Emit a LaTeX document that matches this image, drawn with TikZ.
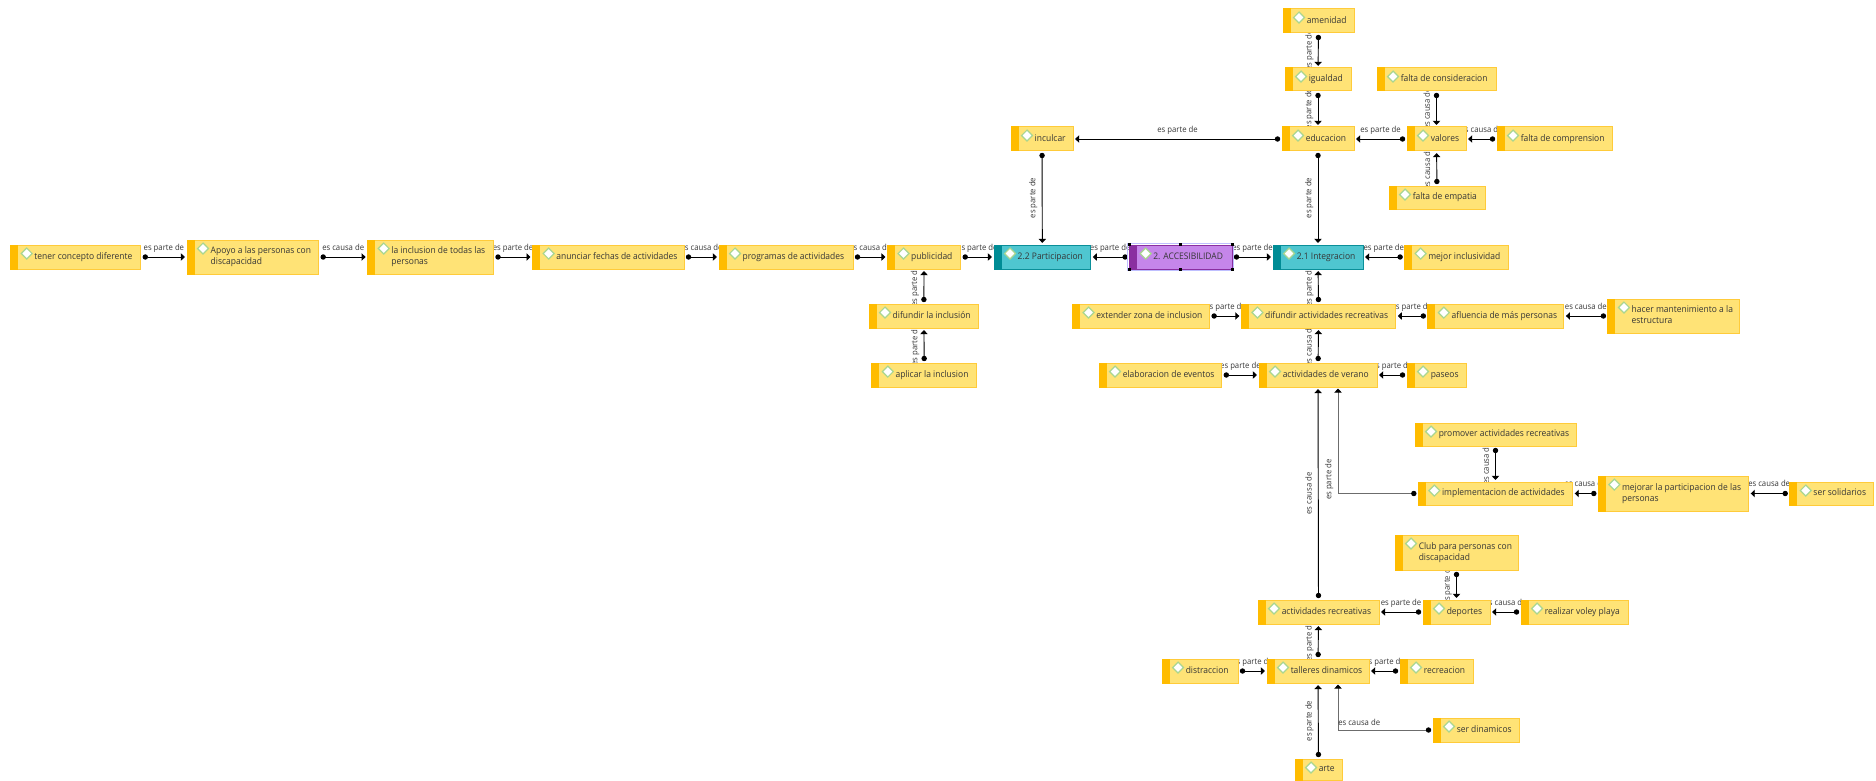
\documentclass[tikz,border=0pt]{standalone}
\usepackage{fontspec}
\setmainfont[FakeStretch=0.935]{Open Sans}
\usetikzlibrary{arrows.meta,calc}
\pgfdeclarelayer{background}
\pgfsetlayers{background,main}
\definecolor{yelfill}{HTML}{FFE376}
\definecolor{yelline}{HTML}{FFCB3A}
\definecolor{yelbar}{HTML}{FFBC00}
\definecolor{tealfill}{HTML}{4FC6D0}
\definecolor{tealline}{HTML}{0A8F99}
\definecolor{tealbar}{HTML}{008C95}
\definecolor{purpfill}{HTML}{C586EA}
\definecolor{purpline}{HTML}{8A2FA0}
\definecolor{purpbar}{HTML}{8A2FA0}
\definecolor{txtcol}{HTML}{363636}
\definecolor{diaml}{HTML}{A9D690}
\newcounter{lblc}
\tikzset{
  yel/.style={fill=yelfill,draw=yelline},
  tealb/.style={fill=tealfill,draw=tealline},
  purp/.style={fill=purpfill,draw=purpline},
  boxbase/.style={rectangle,inner sep=0pt,line width=0.75pt,text=txtcol,font=\fontsize{6.8}{8.3}\selectfont},
  link/.style={line width=0.7pt,black,{Circle[length=4pt,width=4pt,color=black]}-{Triangle[length=3pt,width=5.5pt,color=black]},shorten <=1pt,shorten >=1.2pt},
  lbl/.style={inner xsep=0pt,inner ysep=3.3pt,text height=5pt,text depth=1.4pt,text=txtcol,font=\fontsize{6.2}{7}\selectfont,anchor=south},
  handle/.style={fill=black},
}
% \bx{style}{barcolour}{name}{x1}{y1}{x2}{y2}{text}
\newcommand{\bx}[8]{%
  \pgfmathsetmacro\cxx{(#4+#6)/2}%
  \pgfmathsetmacro\cyy{(#5+#7)/2}%
  \pgfmathsetmacro\bww{(#6-#4)*0.75}%
  \pgfmathsetmacro\bhh{(#7-#5)*0.75}%
  \node[boxbase,#1,minimum width=\bww pt,minimum height=\bhh pt] (#3) at (\cxx,\cyy)
    {\raisebox{2.2pt}{\makebox[\bww pt][l]{\hspace*{17.8pt}\begin{tabular}{@{}l@{}}#8\end{tabular}}}};
  \fill[#2] (#3.north west) rectangle ([xshift=6pt]#3.south west);
  \filldraw[fill=white,draw=diaml,line width=0.9pt]
    ([xshift=8.3pt,yshift=-6.8pt]#3.north west) -- ++(4.1pt,4.1pt) -- ++(4.1pt,-4.1pt) -- ++(-4.1pt,-4.1pt) -- cycle;
}
\newcommand{\ch}[3]{%
  \stepcounter{lblc}%
  \begin{pgfonlayer}{background}
  \draw[link] (#1) -- (#2) node[lbl,midway] (lb\thelblc) {#3};
  \end{pgfonlayer}}
\newcommand{\cv}[3]{%
  \stepcounter{lblc}%
  \begin{pgfonlayer}{background}
  \draw[link] (#1) -- (#2) node[lbl,midway,rotate=90] (lb\thelblc) {#3};
  \end{pgfonlayer}}
\begin{document}
\begin{tikzpicture}[x=0.75pt,y=-0.75pt]
\useasboundingbox (0,0) rectangle (1876,781);
% row
\bx{yel}{yelbar}{tener}{10.7}{245}{140.8}{269}{tener concepto diferente}
\bx{yel}{yelbar}{apoyo}{187}{240}{318.7}{274}{Apoyo a las personas con\\discapacidad}
\bx{yel}{yelbar}{inclu}{367.7}{240}{493.5}{274}{la inclusion de todas las\\personas}
\bx{yel}{yelbar}{anun}{532.6}{245}{684}{269}{anunciar fechas de actividades}
\bx{yel}{yelbar}{prog}{719}{245}{853}{269}{programas de actividades}
\bx{yel}{yelbar}{publi}{887.5}{245}{960.7}{269}{publicidad}
\bx{tealb}{tealbar}{parti}{994}{245}{1090.7}{269}{2.2 Participacion}
\bx{purp}{purpbar}{acces}{1129.6}{245}{1232}{269}{2. ACCESIBILIDAD}
\bx{tealb}{tealbar}{integ}{1273}{245}{1363}{269}{2.1 Integracion}
\bx{yel}{yelbar}{mejor}{1404.6}{245}{1508}{269}{mejor inclusividad}
% selection handles
\draw[color=blue!25,line width=0.6pt] ([shift={(-1pt,1pt)}]acces.north west) rectangle ([shift={(1pt,-1pt)}]acces.south east);
\foreach \a in {north west,north,north east,south west,south,south east}{
  \fill[handle] ([shift={(-1.1pt,-1.1pt)}]acces.\a) rectangle ([shift={(1.1pt,1.1pt)}]acces.\a);
}
% below row
\bx{yel}{yelbar}{difla}{869}{304}{978.6}{328}{difundir la inclusión}
\bx{yel}{yelbar}{aplic}{871.8}{363}{976.8}{387}{aplicar la inclusion}
\bx{yel}{yelbar}{exten}{1072.5}{304}{1209.6}{328}{extender zona de inclusion}
\bx{yel}{yelbar}{difac}{1241.4}{304}{1395.7}{328}{difundir actividades recreativas}
\bx{yel}{yelbar}{afluen}{1427.8}{304}{1563.8}{328}{afluencia de más personas}
\bx{yel}{yelbar}{hacer}{1607.9}{299}{1739}{333}{hacer mantenimiento a la\\estructura}
\bx{yel}{yelbar}{elabo}{1099}{363}{1221.8}{387}{elaboracion de eventos}
\bx{yel}{yelbar}{veran}{1259}{363}{1377}{387}{actividades de verano}
\bx{yel}{yelbar}{paseo}{1407}{363}{1466.4}{387}{paseos}
\bx{yel}{yelbar}{promo}{1415}{423}{1576}{446}{promover actividades recreativas}
\bx{yel}{yelbar}{imple}{1418.3}{482}{1572.6}{505}{implementacion de actividades}
\bx{yel}{yelbar}{mejpa}{1598.3}{476}{1748.6}{511}{mejorar la participacion de las\\personas}
\bx{yel}{yelbar}{solid}{1789.7}{482}{1873.5}{505}{ser solidarios}
% top
\bx{yel}{yelbar}{ameni}{1283}{9}{1354}{33}{amenidad}
\bx{yel}{yelbar}{igual}{1285}{68}{1351}{91}{igualdad}
\bx{yel}{yelbar}{fcons}{1377}{68}{1496}{91}{falta de consideracion}
\bx{yel}{yelbar}{educa}{1282}{127}{1354}{151}{educacion}
\bx{yel}{yelbar}{valor}{1407}{127}{1466}{151}{valores}
\bx{yel}{yelbar}{fcomp}{1497}{127}{1612}{151}{falta de comprension}
\bx{yel}{yelbar}{fempa}{1389}{186}{1485}{209}{falta de empatia}
\bx{yel}{yelbar}{incul}{1011}{127}{1073}{151}{inculcar}
% bottom
\bx{yel}{yelbar}{club}{1395}{535}{1518}{570}{Club para personas con\\discapacidad}
\bx{yel}{yelbar}{actre}{1258}{600}{1379}{624}{actividades recreativas}
\bx{yel}{yelbar}{depor}{1423}{600}{1490}{624}{deportes}
\bx{yel}{yelbar}{voley}{1521}{600}{1628}{624}{realizar voley playa}
\bx{yel}{yelbar}{talle}{1267}{659}{1369}{683}{talleres dinamicos}
\bx{yel}{yelbar}{distr}{1162}{659}{1238}{683}{distraccion}
\bx{yel}{yelbar}{recre}{1400}{659}{1473}{683}{recreacion}
\bx{yel}{yelbar}{serdi}{1433}{718}{1519}{742}{ser dinamicos}
\bx{yel}{yelbar}{arte}{1295}{759}{1342}{780}{arte}
% horizontal connectors
\ch{tener}{apoyo}{es parte de}
\ch{apoyo}{inclu}{es causa de}
\ch{inclu}{anun}{es parte de}
\ch{anun}{prog}{es causa de}
\ch{prog}{publi}{es causa de}
\ch{publi}{parti}{es parte de}
\ch{acces}{parti}{es parte de}
\ch{acces}{integ}{es parte de}
\ch{mejor}{integ}{es parte de}
\ch{exten}{difac}{es parte de}
\ch{afluen}{difac}{es parte de}
\ch{hacer}{afluen}{es causa de}
\ch{elabo}{veran}{es parte de}
\ch{paseo}{veran}{es parte de}
\ch{mejpa}{imple}{es causa de}
\ch{solid}{mejpa}{es causa de}
\ch{educa}{incul}{es parte de}
\ch{valor}{educa}{es parte de}
\ch{fcomp}{valor}{es causa de}
\ch{depor}{actre}{es parte de}
\ch{voley}{depor}{es causa de}
\ch{distr}{talle}{es parte de}
\ch{recre}{talle}{es parte de}
% vertical connectors
\cv{difla}{publi}{es parte de}
\cv{aplic}{difla}{es parte de}
\cv{difac}{integ}{es parte de}
\cv{veran}{difac}{es causa de}
\cv{promo}{imple}{es causa de}
\cv{ameni}{igual}{es parte de}
\cv{igual}{educa}{es parte de}
\cv{educa}{integ}{es parte de}
\cv{incul}{parti}{es parte de}
\cv{fcons}{valor}{es causa de}
\cv{fempa}{valor}{es causa de}
\cv{club}{depor}{es parte de}
\cv{talle}{actre}{es parte de}
\cv{arte}{talle}{es parte de}
\cv{actre}{veran}{es causa de}
% elbow connectors
\coordinate (elbA) at (1338,387);
\coordinate (elbB) at (1338,683);
\begin{pgfonlayer}{background}
\draw[link,draw=gray!85!black] (imple.west) -- (imple.west -| elbA) -- (elbA)
  node[lbl,pos=0.13,rotate=90,text=txtcol] (lbE1) {es parte de};
\draw[link,draw=gray!85!black] (serdi.west) -- (serdi.west -| elbB) -- (elbB);
\node[lbl,anchor=south west,inner ysep=1pt] (lbE2) at ([yshift=1pt]serdi.west -| elbB) {es causa de};
\end{pgfonlayer}
\end{tikzpicture}
\end{document}
